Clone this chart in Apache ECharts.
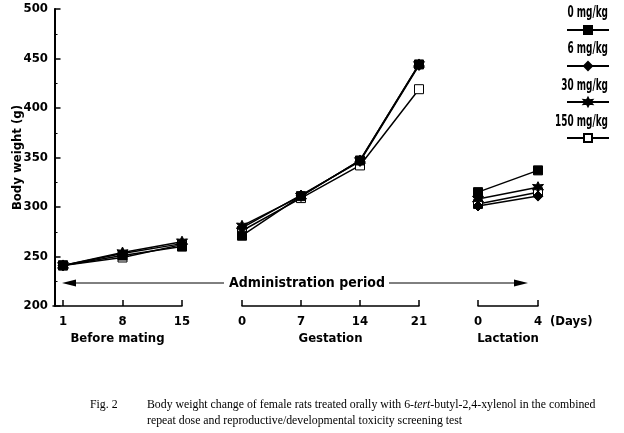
<!DOCTYPE html>
<html>
<head>
<meta charset="utf-8">
<script src="https://cdn.jsdelivr.net/npm/echarts@6/dist/echarts.min.js"></script>
<style>
html,body{margin:0;padding:0;background:#fff;}
#chart{width:624px;height:433px;}
</style>
</head>
<body>
<div id="chart"></div>
<script>
// ---- data ----
const beforeMatingDays = [1, 8, 15];
const gestationDays = [0, 7, 14, 21];
const lactationDays = [0, 4];
const doseNames = ['0 mg/kg', '6 mg/kg', '30 mg/kg', '150 mg/kg'];

const before0 = [241, 251, 260];
const before6 = [241, 253, 263];
const before30 = [241, 254, 265];
const before150 = [241, 249, 262];

const gest0 = [271, 311, 347, 444];
const gest6 = [279, 312, 346, 443];
const gest30 = [281, 311, 347, 444];
const gest150 = [276, 309, 342, 419];

const lact0 = [315, 337];
const lact6 = [301, 311];
const lact30 = [308, 320];
const lact150 = [303, 315];

const yTicks = [200, 250, 300, 350, 400, 450, 500];

// ---- styling ----
const FONT = '"Liberation Sans Narrow", "DejaVu Sans Condensed", sans-serif';
const FS = 13;
const starPath = 'path://M0,-10 L2.5,-4.33 L8.66,-5 L5,0 L8.66,5 L2.5,4.33 L0,10 L-2.5,4.33 L-8.66,5 L-5,0 L-8.66,-5 L-2.5,-4.33 Z';
const doseStyle = {
  '0 mg/kg':   {symbol: 'rect', size: 9, color: '#000', border: '#000'},
  '6 mg/kg':   {symbol: 'diamond', size: 10, color: '#000', border: '#000'},
  '30 mg/kg':  {symbol: starPath, size: 11, color: '#000', border: '#000'},
  '150 mg/kg': {symbol: 'rect', size: 9, color: '#fff', border: '#000'}
};
const doseData = {
  '0 mg/kg':   [before0, gest0, lact0],
  '6 mg/kg':   [before6, gest6, lact6],
  '30 mg/kg':  [before30, gest30, lact30],
  '150 mg/kg': [before150, gest150, lact150]
};
const phaseDays = [beforeMatingDays, gestationDays, lactationDays];

const drawOrder = ['150 mg/kg', '6 mg/kg', '30 mg/kg', '0 mg/kg'];
const series = [];
drawOrder.forEach(name => {
  const st = doseStyle[name];
  phaseDays.forEach((days, p) => {
    series.push({
      name: name,
      type: 'line',
      xAxisIndex: p,
      yAxisIndex: p,
      data: days.map((d, i) => [d, doseData[name][p][i]]),
      symbol: st.symbol,
      symbolSize: st.size,
      lineStyle: {color: '#000', width: 1.5},
      itemStyle: {color: st.color, borderColor: st.border, borderWidth: 1},
      emphasis: {disabled: true},
      animation: false
    });
  });
});

const gridTop = 9, gridH = 297;
const grids = [
  {left: 53, top: gridTop, width: 129, height: gridH},
  {left: 242, top: gridTop, width: 177, height: gridH},
  {left: 478, top: gridTop, width: 60, height: gridH}
];

const axisTextStyle = {color: '#000', fontFamily: FONT, fontWeight: 'bold', fontSize: FS};

function makeX(min, max, ticks, name, idx) {
  return {
    type: 'value', gridIndex: idx, min: min, max: max,
    name: name, nameLocation: 'middle', nameGap: 26,
    nameMoveOverlap: false,
    nameTextStyle: axisTextStyle,
    axisLine: {show: true, onZero: false, lineStyle: {color: '#000', width: 1.5}},
    axisTick: {show: true, inside: true, length: 6, customValues: ticks, lineStyle: {color: '#000', width: 1.5}},
    axisLabel: Object.assign({customValues: ticks, margin: 9}, axisTextStyle),
    splitLine: {show: false}
  };
}

const xAxes = [
  makeX(-0.18, 15, beforeMatingDays, 'Before mating', 0),
  makeX(0, 21, gestationDays, 'Gestation', 1),
  makeX(0, 4, lactationDays, 'Lactation', 2)
];

const yAxes = [0, 1, 2].map(i => ({
  type: 'value', gridIndex: i, min: 200, max: 500, interval: 50,
  show: i === 0,
  name: i === 0 ? 'Body weight (g)' : '',
  nameLocation: 'middle', nameGap: 29,
  nameMoveOverlap: false,
  nameTextStyle: axisTextStyle,
  axisLine: {show: true, lineStyle: {color: '#000', width: 2}},
  axisTick: {show: true, inside: true, length: 6, lineStyle: {color: '#000', width: 1.5}},
  minorTick: {show: true, splitNumber: 2, length: 3, lineStyle: {color: '#000', width: 1}},
  axisLabel: Object.assign({margin: 5, customValues: yTicks}, axisTextStyle),
  splitLine: {show: false}
}));

const LFONT = 'bold ' + FS + 'px ' + FONT;
const captionFont = '11.8px "Liberation Serif", "DejaVu Serif", serif';

function legendLabel(txt, y) {
  return {type: 'text', x: 608, y: y, scaleX: 0.66,
    style: {text: txt, x: 0, y: 0, fill: '#000', font: 'bold 15px ' + FONT, align: 'right', verticalAlign: 'middle'}};
}

const option = {
  backgroundColor: '#fff',
  animation: false,
  grid: grids,
  xAxis: xAxes,
  yAxis: yAxes,
  legend: {
    data: doseNames,
    orient: 'vertical',
    left: 561, top: 20,
    itemWidth: 42, itemHeight: 10, itemGap: 26,
    formatter: () => '',
    textStyle: {fontSize: 1},
    selectedMode: false,
    inactiveColor: '#000'
  },
  series: series,
  graphic: [
    legendLabel('0 mg/kg', 13),
    legendLabel('6 mg/kg', 49),
    legendLabel('30 mg/kg', 86),
    legendLabel('150 mg/kg', 122),
    // administration period arrow
    {type: 'line', shape: {x1: 74, y1: 283, x2: 224, y2: 283}, style: {stroke: '#000', lineWidth: 1}},
    {type: 'polygon', shape: {points: [[62, 283], [76, 279.5], [76, 286.5]]}, style: {fill: '#000'}},
    {type: 'line', shape: {x1: 389, y1: 283, x2: 516, y2: 283}, style: {stroke: '#000', lineWidth: 1}},
    {type: 'polygon', shape: {points: [[528, 283], [514, 279.5], [514, 286.5]]}, style: {fill: '#000'}},
    {type: 'text', style: {text: 'Administration period', x: 307, y: 283, fill: '#000', font: 'bold 14px ' + FONT, align: 'center', verticalAlign: 'middle'}},
    {type: 'text', style: {text: '(Days)', x: 550, y: 322, fill: '#000', font: LFONT, align: 'left', verticalAlign: 'middle'}},
    // caption
    {type: 'text', style: {text: 'Fig. 2', x: 90, y: 405, fill: '#000', font: captionFont, align: 'left', verticalAlign: 'middle'}},
    {type: 'text', style: {
      text: '{n|Body weight change of female rats treated orally with 6-}{i|tert}{n|-butyl-2,4-xylenol in the combined}',
      x: 147, y: 405, align: 'left', verticalAlign: 'middle',
      rich: {n: {font: captionFont, fill: '#000'}, i: {font: 'italic ' + captionFont, fill: '#000'}}
    }},
    {type: 'text', style: {text: 'repeat dose and reproductive/developmental toxicity screening test', x: 147, y: 421, fill: '#000', font: captionFont, align: 'left', verticalAlign: 'middle'}}
  ]
};

const chart = echarts.init(document.getElementById('chart'), null, {renderer: 'canvas'});
chart.setOption(option);
</script>
</body>
</html>
